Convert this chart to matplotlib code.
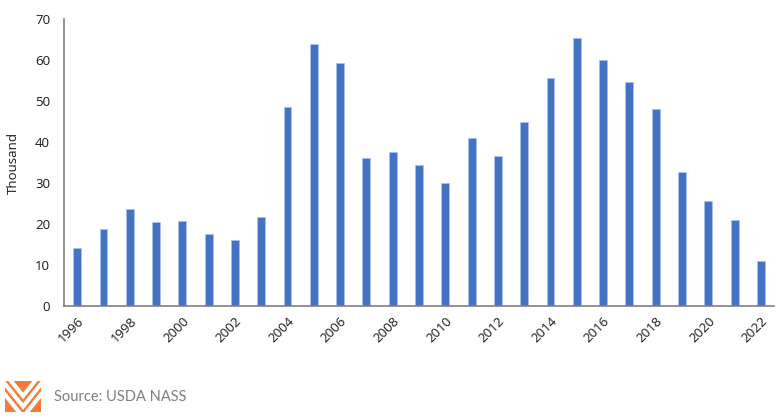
import matplotlib
matplotlib.use("Agg")
import matplotlib.pyplot as plt
from matplotlib.patches import Rectangle
import numpy as np

years = list(range(1996, 2023))
values = [14.1, 18.9, 23.7, 20.6, 20.7, 17.6, 16.0, 21.6, 48.6, 63.9, 59.2,
          36.0, 37.5, 34.4, 30.0, 41.0, 36.6, 44.9, 55.5, 65.3, 60.1, 54.6,
          48.0, 32.6, 25.5, 21.0, 11.0]
yticks = [0, 10, 20, 30, 40, 50, 60, 70]

W, H = 782, 418
fig = plt.figure(figsize=(W / 100, H / 100), dpi=100)
plt.rcParams['font.family'] = ['Open Sans', 'DejaVu Sans']

ax = fig.add_axes([64 / W, (H - 306) / H, (774 - 64) / W, (306 - 19) / H])
x = np.arange(len(years))
ax.bar(x, values, width=0.3, color='#4472C4', edgecolor='#A9C1EA', linewidth=0.6)
ax.set_xlim(-0.5, len(years) - 0.5)
ax.set_ylim(0, 70)
ax.set_yticks(yticks)
ax.set_yticklabels([str(v) for v in yticks], fontsize=9.5, color='#1a1a1a')
ax.set_xticks(x[::2])
ax.set_xticklabels([str(y) for y in years[::2]], rotation=45, ha='right',
                   rotation_mode='anchor', fontsize=9.5, color='#1a1a1a')
ax.tick_params(axis='both', length=0, pad=6)
ax.tick_params(axis='y', pad=10)
for s in ['top', 'right']:
    ax.spines[s].set_visible(False)
for s in ['left', 'bottom']:
    ax.spines[s].set_color('#808080')
    ax.spines[s].set_linewidth(1.2)
ax.set_ylabel('Thousand', fontsize=9.5, labelpad=11, color='#1a1a1a')

# logo
lx0, lx1, ly0, ly1 = 5, 41, 381, 412
logo_ax = fig.add_axes([lx0 / W, 1 - ly1 / H, (lx1 - lx0) / W, (ly1 - ly0) / H])
logo_ax.set_xlim(0, 36)
logo_ax.set_ylim(0, 31)
logo_ax.axis('off')
logo_ax.add_patch(Rectangle((0, 0), 36, 31, color='#F47B3C'))
slope = 1.25
for v in [-5.0, 5.5, 16.0]:
    logo_ax.plot([-4, 18, 40], [v + slope * 22, v, v + slope * 22],
                 color='white', lw=3.0, solid_capstyle='butt', solid_joinstyle='miter')

fig.text(54 / W, 1 - 397 / H, 'Source: USDA NASS', fontsize=10.5, color='#7F7F7F',
         va='center', ha='left', family=['Lato', 'DejaVu Sans'])

fig.savefig('out.png', dpi=100)
